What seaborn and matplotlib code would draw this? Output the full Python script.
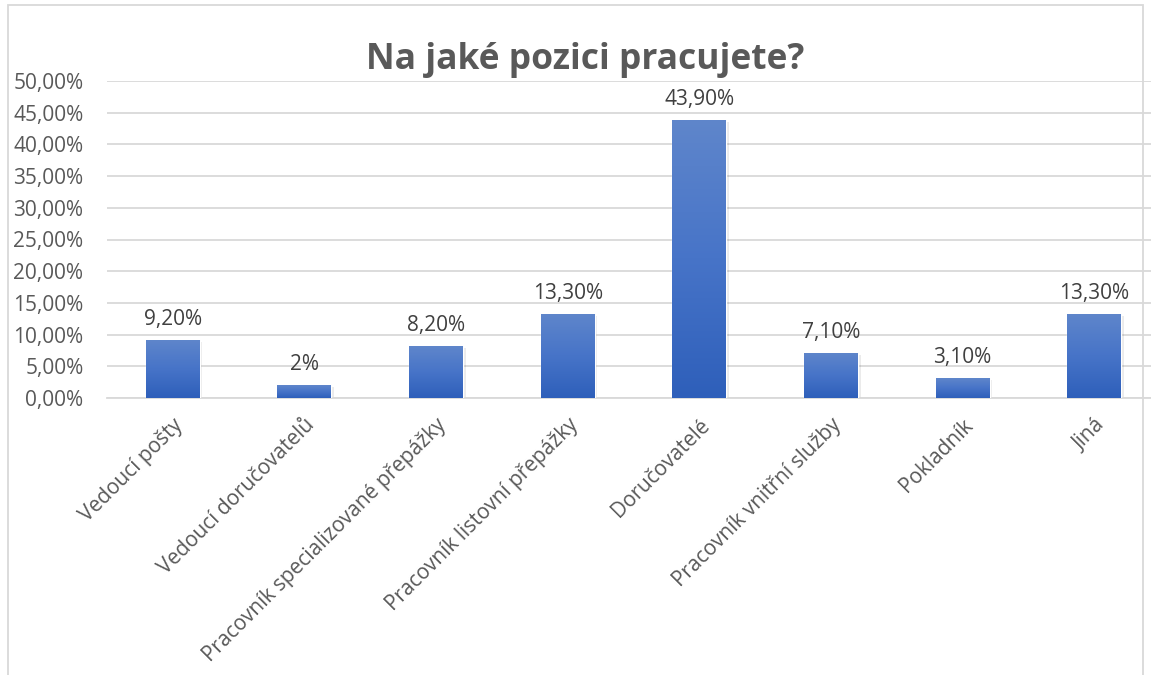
import numpy as np
import pandas as pd
import matplotlib
matplotlib.use("Agg")
import matplotlib.pyplot as plt
import seaborn as sns
from matplotlib.patches import Rectangle
from matplotlib.colors import LinearSegmentedColormap

categories = ["Vedoucí pošty", "Vedoucí doručovatelů", "Pracovník specializované přepážky",
              "Pracovník listovní přepážky", "Doručovatelé", "Pracovník vnitřní služby",
              "Pokladník", "Jiná"]
values = [9.2, 2.0, 8.2, 13.3, 43.9, 7.1, 3.1, 13.3]
value_labels = ["9,20%", "2%", "8,20%", "13,30%", "43,90%", "7,10%", "3,10%", "13,30%"]
yticks = [0, 5, 10, 15, 20, 25, 30, 35, 40, 45, 50]
ytick_labels = ["0,00%", "5,00%", "10,00%", "15,00%", "20,00%", "25,00%", "30,00%",
                "35,00%", "40,00%", "45,00%", "50,00%"]
title = "Na jaké pozici pracujete?"

sns.set_style("white")
plt.rcParams['font.family'] = ['Open Sans', 'DejaVu Sans']

W, H = 1151, 675
fig = plt.figure(figsize=(W / 100, H / 100), dpi=100)
ax = fig.add_axes([107 / W, 1 - 398 / H, 1053 / W, (398 - 81) / H])

df = pd.DataFrame({"cat": categories, "val": values})
sns.barplot(data=df, x="cat", y="val", ax=ax, width=0.41, color="#4472C4",
            saturation=1, zorder=3)

ax.set_xlim(-0.5, len(categories) - 0.5)
ax.set_ylim(0, 50)
ax.set_yticks(yticks)
ax.set_yticklabels(ytick_labels)
ax.yaxis.grid(True, color="#D9D9D9", lw=1.3, zorder=0)
ax.set_axisbelow(True)
for s in ["top", "right", "left"]:
    ax.spines[s].set_visible(False)
ax.spines["bottom"].set_color("#D9D9D9")
ax.spines["bottom"].set_linewidth(1.3)
ax.set_xlabel("")
ax.set_ylabel("")

FS = 15
ax.tick_params(axis="y", length=0, pad=17, labelsize=FS, labelcolor="#595959")
ax.tick_params(axis="x", which="major", length=0, pad=12, labelsize=FS, labelcolor="#595959")
ax.set_xticks(np.arange(-0.5, len(categories) + 0.5, 1), minor=True)
ax.tick_params(axis="x", which="minor", length=6, color="#D9D9D9", width=1.3, direction="out")
for lab in ax.get_xticklabels():
    lab.set_rotation(45)
    lab.set_ha("right")
    lab.set_va("top")
    lab.set_rotation_mode("anchor")

# gradient fill on bars
cmap = LinearSegmentedColormap.from_list("g", ["#2E5FBA", "#4774C8", "#5F86CB"])
grad = np.linspace(0, 1, 256).reshape(-1, 1)
for p, v, lbl in zip(ax.patches, values, value_labels):
    x0, w = p.get_x(), p.get_width()
    h = p.get_height()
    sh = Rectangle((x0 + 0.02, -0.3), w, h, facecolor="#000000", alpha=0.08,
                   zorder=2, edgecolor="none")
    ax.add_patch(sh)
    im = ax.imshow(grad, extent=[x0, x0 + w, 0, h], origin="lower", cmap=cmap,
                   aspect="auto", zorder=4)
    im.set_clip_path(p)
    ax.text(x0 + w / 2, h + 1.6, lbl, ha="center", va="bottom", fontsize=FS,
            color="#404040", zorder=5)

ax.set_xlim(-0.5, len(categories) - 0.5)
ax.set_ylim(0, 50)

fig.text(585 / W, 1 - 60 / H, title, ha="center", va="center", fontsize=25.5,
         fontweight="bold", color="#595959")

fig.patches.append(Rectangle((8 / W, -0.1), (1143 - 8) / W, 1.1 - 5 / H,
                             transform=fig.transFigure, fill=False,
                             edgecolor="#D9D9D9", lw=1.3))

fig.savefig("out.png", dpi=100, facecolor="white")
